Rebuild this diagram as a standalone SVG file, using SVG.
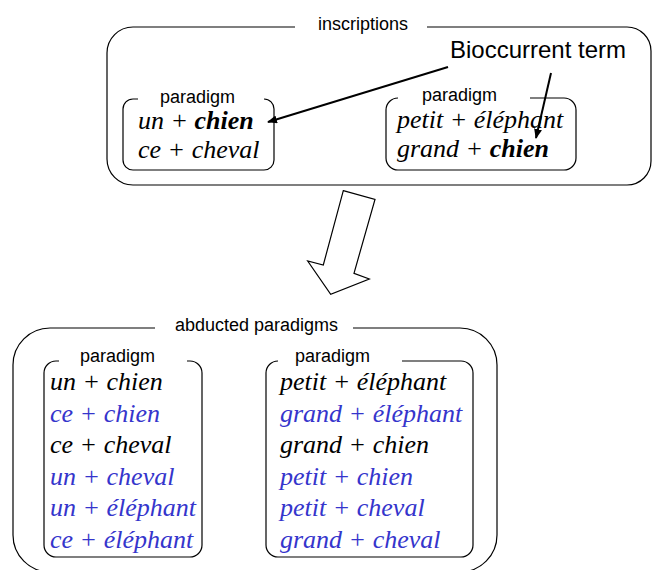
<svg xmlns="http://www.w3.org/2000/svg" width="653" height="570" viewBox="0 0 653 570">
<defs>
<style>
.box{fill:none;stroke:#000;stroke-width:1.2}
.lbl{font-family:"Liberation Sans",Arial,sans-serif;font-size:18px;fill:#000}
.t{font-family:"Liberation Serif","Times New Roman",serif;font-style:italic;font-size:26px;fill:#000}
.b{font-weight:bold}
.blue{fill:#3535cc}
.con{fill:none;stroke:#000;stroke-width:2}
</style>
<marker id="ah" markerWidth="10" markerHeight="8" refX="9" refY="4" orient="auto" markerUnits="userSpaceOnUse">
<path d="M0,0 L10,4 L0,8 Z" fill="#000"/>
</marker>
</defs>
<rect width="653" height="570" fill="#fff"/>

<g id="inscriptions">
<path class="box" d="M295,27 H133 A26 26 0 0 0 107 53 V159 A26 26 0 0 0 133 185 H627 A24 24 0 0 0 651 161 V51 A24 24 0 0 0 627 27 H427"/>
<text class="lbl" x="318" y="30">inscriptions</text>
</g>

<g id="paradigm-top-left">
<path class="box" d="M138,99 H133 A10 10 0 0 0 123 109 V160 A10 10 0 0 0 133 170 H264 A10 10 0 0 0 274 160 V109 A10 10 0 0 0 264 99"/>
<text class="lbl" x="160" y="103">paradigm</text>
<text class="t" x="138" y="129">un + <tspan class="b">chien</tspan></text>
<text class="t" x="138" y="158">ce + cheval</text>
</g>

<g id="paradigm-top-right">
<path class="box" d="M398,98 A12 12 0 0 0 386 110 V158 A12 12 0 0 0 398 170 H564 A12 12 0 0 0 576 158 V110 A12 12 0 0 0 564 98 H530"/>
<text class="lbl" x="422" y="101">paradigm</text>
<text class="t" x="397" y="128">petit + éléphant</text>
<text class="t" x="397" y="157">grand + <tspan class="b">chien</tspan></text>
</g>

<g id="bioccurrent">
<text x="450" y="58" font-family="Liberation Sans,Arial,sans-serif" font-size="24" fill="#000">Bioccurrent term</text>
</g>

<g id="connectors">
<line class="con" x1="448" y1="67" x2="268" y2="122" marker-end="url(#ah)"/>
<line class="con" x1="551" y1="73" x2="536" y2="138" marker-end="url(#ah)"/>
<polygon points="343.3,190.7 375,199.3 354,273.3 369.3,279 330.7,294.3 307.7,261 323.3,265" fill="#fff" stroke="#000" stroke-width="1.2"/>
</g>

<g id="abducted">
<path class="box" d="M155,328 H50 A37 37 0 0 0 13 365 V535 A37 37 0 0 0 50 572 H460 A37 37 0 0 0 497 535 V365 A37 37 0 0 0 460 328 H353"/>
<text class="lbl" x="175" y="331">abducted paradigms</text>
</g>

<g id="paradigm-bottom-left">
<path class="box" d="M59,361 H56 A12 12 0 0 0 44 373 V545 A12 12 0 0 0 56 557 H190 A12 12 0 0 0 202 545 V373 A12 12 0 0 0 190 361 H187"/>
<text class="lbl" x="80" y="362">paradigm</text>
<text class="t" x="50" y="390">un + chien</text>
<text class="t blue" x="50" y="422">ce + chien</text>
<text class="t" x="50" y="453">ce + cheval</text>
<text class="t blue" x="50" y="485">un + cheval</text>
<text class="t blue" x="50" y="516">un + éléphant</text>
<text class="t blue" x="50" y="548">ce + éléphant</text>
</g>

<g id="paradigm-bottom-right">
<path class="box" d="M278,361 A12 12 0 0 0 266 373 V545 A12 12 0 0 0 278 557 H461 A12 12 0 0 0 473 545 V373 A12 12 0 0 0 461 361 H402"/>
<text class="lbl" x="295" y="362">paradigm</text>
<text class="t" x="280" y="390">petit + éléphant</text>
<text class="t blue" x="280" y="422">grand + éléphant</text>
<text class="t" x="280" y="453">grand + chien</text>
<text class="t blue" x="280" y="485">petit + chien</text>
<text class="t blue" x="280" y="516">petit + cheval</text>
<text class="t blue" x="280" y="548">grand + cheval</text>
</g>
</svg>
